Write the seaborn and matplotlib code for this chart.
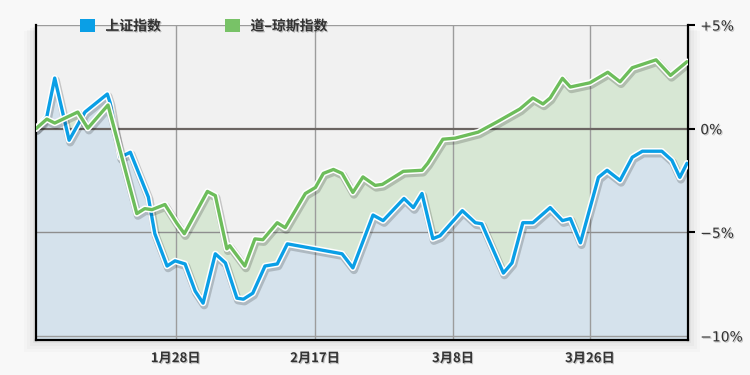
import numpy as np
import pandas as pd
import matplotlib
matplotlib.use("Agg")
import matplotlib.pyplot as plt
import matplotlib.patheffects as pe
from matplotlib.patches import Patch, Rectangle
import seaborn as sns

# ---------------- data ----------------
series_names = ["上证指数", "道–琼斯指数"]

sh_day = [0.0, 1.5, 2.6, 4.6, 6.8, 9.9, 10.3, 11.7, 13.1, 15.6, 16.5, 18.2, 19.3, 20.7,
          22.1, 23.2, 24.9, 26.3, 27.9, 28.8, 30.1, 31.8, 33.5, 34.9, 42.5, 44.0, 46.8,
          48.2, 51.1, 52.4, 53.6, 55.1, 56.1, 59.2, 61.0, 61.9, 64.9, 66.1, 67.6, 69.0,
          71.4, 73.1, 74.2, 75.6, 78.1, 79.3, 81.1, 82.8, 84.2, 86.9, 88.3, 89.4, 90.4]
sh_val = [0.0, 0.57, 2.44, -0.56, 0.80, 1.67, 1.24, -1.38, -1.14, -3.30, -5.07, -6.63,
          -6.38, -6.53, -7.84, -8.42, -6.04, -6.48, -8.18, -8.23, -7.94, -6.63, -6.53,
          -5.56, -6.04, -6.72, -4.17, -4.44, -3.37, -3.81, -3.13, -5.31, -5.17, -3.96,
          -4.54, -4.59, -6.97, -6.48, -4.54, -4.54, -3.81, -4.44, -4.34, -5.51, -2.35,
          -2.01, -2.50, -1.38, -1.09, -1.09, -1.53, -2.35, -1.67]

dj_day = [0.0, 1.5, 2.6, 5.8, 7.2, 10.0, 14.0, 15.1, 16.1, 17.9, 19.6, 20.6, 23.8, 24.9,
          26.5, 26.9, 29.0, 30.4, 31.5, 33.5, 34.6, 37.4, 38.8, 39.9, 41.3, 42.5, 44.0,
          45.4, 47.1, 48.1, 51.0, 53.6, 54.4, 56.5, 58.2, 61.4, 64.0, 67.2, 69.0, 70.4,
          71.4, 73.1, 74.2, 76.9, 79.4, 81.1, 82.8, 86.1, 88.1, 90.4]
dj_val = [0.0, 0.46, 0.27, 0.80, 0.02, 1.14, -4.10, -3.86, -3.91, -3.66, -4.59, -5.07,
          -3.03, -3.23, -5.80, -5.65, -6.63, -5.32, -5.36, -4.54, -4.78, -3.13, -2.84,
          -2.16, -1.97, -2.16, -3.08, -2.33, -2.74, -2.69, -2.06, -2.01, -1.67, -0.51,
          -0.46, -0.17, 0.32, 0.95, 1.48, 1.19, 1.48, 2.43, 2.01, 2.21, 2.72, 2.26, 2.94,
          3.32, 2.57, 3.23]

x_tick_days = [19.4, 38.75, 57.9, 76.9]
x_tick_labels = ["1月28日", "2月17日", "3月8日", "3月26日"]
y_ticks = [5, 0, -5, -10]
y_tick_labels = ["+5%", "0%", "−5%", "−10%"]

# ---------------- style ----------------
line_colors = ["#0a9fe6", "#6dbd5b"]
legend_colors = ["#0a9fe6", "#78c267"]
fill_colors = ["#d5e2ec", "#d7e7d4"]
ymin, ymax = -10.2, 5.0
xmin, xmax = 0.0, 90.5

sns.set_theme(style="white")
plt.rcParams["font.family"] = ["Noto Sans CJK SC", "DejaVu Sans"]

df = pd.concat([
    pd.DataFrame({"day": sh_day, "value": sh_val, "index": series_names[0]}),
    pd.DataFrame({"day": dj_day, "value": dj_val, "index": series_names[1]}),
], ignore_index=True)

fig = plt.figure(figsize=(7.5, 3.75), dpi=100)
fig.patch.set_facecolor("#f8f8f8")

ax_rect = [0.048, 0.0933, 0.869, 0.84]
# soft drop shadow behind plot box
for i, a in enumerate([0.035, 0.025, 0.02, 0.015]):
    d = (i + 1) * 0.004
    fig.patches.append(Rectangle((ax_rect[0] - d, ax_rect[1] - d * 2),
                                 ax_rect[2] + 2 * d, ax_rect[3] + d,
                                 transform=fig.transFigure, color="black",
                                 alpha=a, lw=0, zorder=-5))

ax = fig.add_axes(ax_rect)
ax.set_zorder(1)
ax.set_facecolor("#f1f1f1")

# area fills (green under green line, then blue under blue line on top)
ax.fill_between(dj_day, dj_val, ymin, color=fill_colors[1], lw=0, zorder=0.8)
ax.fill_between(sh_day, sh_val, ymin, color=fill_colors[0], lw=0, zorder=0.9)

line_fx = [pe.SimpleLineShadow(offset=(0.8, -1.6), shadow_color="black", alpha=0.18,
                               linewidth=5.8),
           pe.Stroke(linewidth=4.6, foreground="white"),
           pe.Normal()]

sns.lineplot(data=df, x="day", y="value", hue="index", hue_order=series_names,
             palette=line_colors, estimator=None, sort=False, linewidth=2.4,
             legend=False, ax=ax, path_effects=line_fx, zorder=3)

ax.set_xlim(xmin, xmax)
ax.set_ylim(ymin, ymax)
ax.set_xlabel("")
ax.set_ylabel("")

ax.set_xticks(x_tick_days)
ax.set_xticklabels(x_tick_labels)
ax.set_yticks(y_ticks)
ax.set_yticklabels(y_tick_labels)
ax.yaxis.tick_right()

ax.set_axisbelow("line")
ax.grid(True, axis="both", color="#9c9c9c", linewidth=1.0)
for val, gl in zip(y_ticks, ax.yaxis.get_gridlines()):
    if val == 0:
        gl.set_color("#6b6562")
        gl.set_linewidth(1.6)
    elif val == -5:
        gl.set_color("#8e8e8e")

for s in ["left", "right", "bottom"]:
    ax.spines[s].set_visible(True)
    ax.spines[s].set_color("black")
    ax.spines[s].set_linewidth(1.6)
ax.spines["top"].set_visible(False)

txt_fx = [pe.withSimplePatchShadow(offset=(0.8, -0.8), shadow_rgbFace="black", alpha=0.22)]

ax.tick_params(axis="y", which="both", left=False, right=True, length=5, width=1.5,
               color="black", pad=4, labelsize=10, labelcolor="#333333")
ax.tick_params(axis="x", which="both", bottom=False, length=0, pad=8, labelsize=9.5,
               labelcolor="#333333")
for lab in ax.get_yticklabels():
    lab.set_family(["DejaVu Sans"])
    lab.set_path_effects(txt_fx)
for lab in ax.get_xticklabels():
    lab.set_fontweight("bold")
    lab.set_path_effects(txt_fx)
for val, tk in zip(y_ticks, ax.yaxis.get_major_ticks()):
    if val == -10:
        tk.tick2line.set_visible(False)

handles = [Patch(facecolor=c, edgecolor="none") for c in legend_colors]
leg = fig.legend(handles, series_names, loc="upper left",
                 bbox_to_anchor=(0.097, 0.968), ncol=2, frameon=False,
                 handlelength=1.1, handleheight=1.1, handletextpad=0.75,
                 columnspacing=4.6, borderpad=0, fontsize=10)
for t in leg.get_texts():
    t.set_color("#333333")
    t.set_fontweight("bold")
    t.set_path_effects(txt_fx)

fig.savefig("out.png", dpi=100, facecolor=fig.get_facecolor())
